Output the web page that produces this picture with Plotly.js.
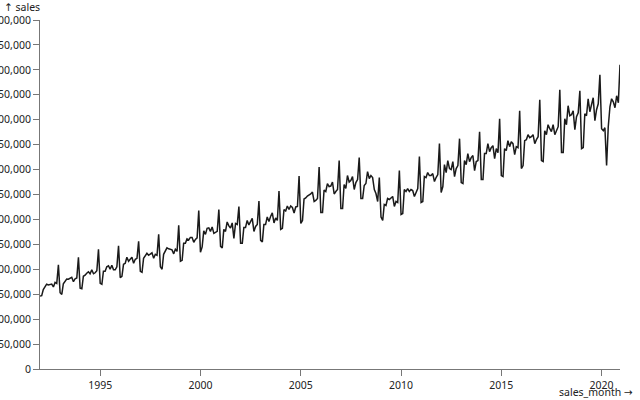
<!DOCTYPE html>
<html>
<head>
<meta charset="utf-8">
<script src="https://cdn.plot.ly/plotly-3.0.1.min.js"></script>
<style>html,body{margin:0;padding:0;background:#fff;}#chart{width:640px;height:400px;}</style>
</head>
<body>
<div id="chart"></div>
<script>
const firstYear = 1992;
const sales = [
  // 1992
  146376,147079,159336,163669,170068,168663,169890,170364,164617,173655,171547,208838,
  // 1993
  153000,149500,171000,176000,180500,180000,182000,184000,175000,181000,182500,224000,
  // 1994
  162000,161000,186000,188000,192000,195000,191000,199000,191000,193000,197000,240000,
  // 1995
  172000,170000,196000,196000,205000,207000,200000,208000,199000,199000,205000,247000,
  // 1996
  183000,186000,210000,212000,224000,216000,220000,224000,212000,220000,222000,256000,
  // 1997
  196000,194000,222000,226000,232000,228000,231000,233000,222000,230000,228000,270000,
  // 1998
  205000,200000,230000,236000,243000,241000,240000,239000,231000,240000,236000,288000,
  // 1999
  216000,218000,252000,252000,261000,259000,264000,264000,254000,260000,263000,318000,
  // 2000
  234000,245000,277000,270000,282000,283000,276000,285000,272000,274000,276000,320000,
  // 2001
  246000,243000,280000,276000,295000,287000,283000,293000,262000,292000,290000,326000,
  // 2002
  252000,252000,284000,284000,298000,289000,295000,302000,276000,286000,290000,337000,
  // 2003
  258000,255000,290000,290000,305000,296000,306000,313000,293000,303000,298000,357000,
  // 2004
  280000,282000,320000,317000,327000,320000,327000,324000,313000,325000,326000,387000,
  // 2005
  292000,298000,341000,343000,347000,349000,351000,355000,336000,338000,342000,405000,
  // 2006
  314000,314000,359000,356000,372000,366000,367000,375000,351000,356000,360000,418000,
  // 2007
  322000,322000,370000,362000,388000,375000,378000,386000,360000,374000,380000,424000,
  // 2008
  342000,342000,368000,372000,396000,382000,388000,384000,360000,352000,336000,384000,
  // 2009
  305000,298000,330000,328000,342000,340000,344000,346000,326000,336000,334000,398000,
  // 2010
  310000,312000,360000,356000,362000,356000,360000,358000,346000,356000,362000,426000,
  // 2011
  334000,336000,386000,384000,394000,388000,388000,392000,376000,384000,390000,452000,
  // 2012
  354000,366000,410000,394000,418000,402000,400000,416000,386000,402000,408000,462000,
  // 2013
  374000,372000,418000,410000,432000,416000,424000,428000,398000,416000,418000,476000,
  // 2014
  380000,380000,432000,432000,452000,436000,444000,448000,422000,442000,434000,502000,
  // 2015
  388000,386000,442000,438000,458000,446000,456000,452000,430000,446000,444000,518000,
  // 2016
  402000,408000,458000,460000,470000,464000,466000,470000,452000,460000,466000,540000,
  // 2017
  418000,416000,478000,470000,490000,482000,476000,490000,470000,478000,486000,560000,
  // 2018
  434000,434000,502000,490000,528000,508000,510000,518000,480000,506000,514000,558000,
  // 2019
  442000,444000,512000,508000,542000,516000,530000,544000,498000,520000,532000,590000,
  // 2020
  482000,478000,484000,408000,486000,526000,542000,536000,524000,548000,534000,610000
];
const months = sales.map((v, i) => {
  const y = firstYear + Math.floor(i / 12);
  const m = (i % 12) + 1;
  return y + '-' + (m < 10 ? '0' + m : m) + '-01';
});
const arrowSpan = (a) => '<span style="font-family:DejaVu Sans">' + a + '</span>';
const yTitle = arrowSpan('↑') + ' sales';
const xTitle = 'sales_month ' + arrowSpan('→');

const font = {family: 'Noto Sans, Open Sans, sans-serif', size: 10.5, color: '#222'};
const axisCommon = {
  showgrid: false, zeroline: false, showline: true, linecolor: '#777', linewidth: 1,
  ticks: 'outside', ticklen: 6, tickwidth: 1, tickcolor: '#777', tickfont: font,
  fixedrange: true, automargin: false
};

Plotly.newPlot('chart', [{
  x: months, y: sales, type: 'scatter', mode: 'lines',
  line: {color: '#1a1a1a', width: 1.5}, hoverinfo: 'skip'
}], {
  width: 640, height: 400,
  margin: {l: 40, r: 20, t: 20, b: 31},
  paper_bgcolor: '#fff', plot_bgcolor: '#fff', showlegend: false,
  font: font,
  xaxis: Object.assign({}, axisCommon, {
    type: 'date', range: [months[0], months[months.length - 1]],
    tickformat: '%Y', dtick: 'M60', tick0: '1995-01-01'
  }),
  yaxis: Object.assign({}, axisCommon, {
    range: [0, 700000], dtick: 50000, tick0: 0, tickformat: ',d'
  }),
  annotations: [
    {text: yTitle, xref: 'paper', yref: 'paper', x: 0, y: 1.038, xanchor: 'right', yanchor: 'middle',
     xshift: 2, showarrow: false, font: font},
    {text: xTitle, xref: 'paper', yref: 'paper', x: 1.0259, y: -0.066, xanchor: 'right', yanchor: 'middle',
     showarrow: false, font: font}
  ]
}, {displayModeBar: false, staticPlot: true});
</script>
</body>
</html>
